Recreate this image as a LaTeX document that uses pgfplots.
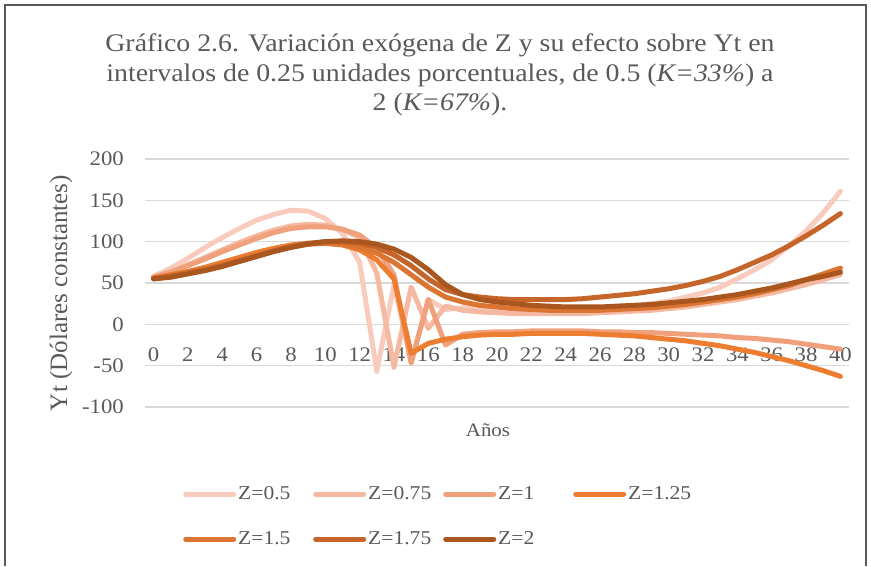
\documentclass[border=0pt]{standalone}
\usepackage{fontspec}
\setmainfont{Liberation Serif}[FakeStretch=1.1]
\newfontfamily\uprightserif{Liberation Serif}
\usepackage{pgfplots}
\usepackage{pgfplotstable}
\pgfplotsset{compat=1.18}

\definecolor{txt}{HTML}{595959}
\definecolor{gridc}{HTML}{D9D9D9}
\definecolor{frame}{HTML}{595959}
\definecolor{cA}{HTML}{F8CBBD}
\definecolor{cB}{HTML}{F4B9A0}
\definecolor{cC}{HTML}{F0A07A}
\definecolor{cD}{HTML}{ED7D31}
\definecolor{cE}{HTML}{DC7432}
\definecolor{cF}{HTML}{C5652A}
\definecolor{cG}{HTML}{A9561F}

% Yt for each value of Z, years 0..40
\pgfplotstableread{
t  z05  z075  z1   z125  z15  z175  z2
0  58   57    57   56    56   55    55
1  68   64    63   60    59   58    57
2  80   72    71   64    63   62    61
3  93   81    79   69    67   66    65
4  105  90    88   75    72   71    70
5  116  99    96   81    78   77    76
6  126  107   104  87    84   83    82
7  133  114   111  92    89   89    88
8  138  119   116  96    94   94    93
9  137  121   118  98    97   98    97
10 128  120   118  98    98   100   100
11 110  115   115  96    97   100   101
12 75   105   108  90    93   98    100
13 -57  62    92   78    86   93    97
14 48   -52   60   55    75   84    91
15 -45  45    -47  -35   60   71    81
16 30   -5    30   -23   45   55    66
17 18   22    -25  -18   33   42    48
18 20   17    -12  -15   27   36    36
19 18   15    -10  -13   23   33    30
20 17   14    -9   -12   21   31    27
21 16   13    -9   -12   19   30    25
22 15   13    -8   -11   18   30    23
23 15   13    -8   -11   17   30    22
24 15   13    -8   -11   17   30    21
25 16   13    -8   -11   17   31    21
26 18   14    -9   -12   17   33    21
27 20   15    -9   -13   18   35    22
28 22   16    -10  -14   19   37    23
29 25   17    -10  -16   20   40    24
30 28   19    -11  -18   22   43    26
31 33   21    -12  -20   24   47    28
32 38   24    -13  -23   27   52    30
33 45   27    -14  -26   30   58    33
34 55   30    -16  -30   33   66    36
35 66   34    -17  -34   37   75    40
36 78   38    -19  -39   42   84    44
37 95   43    -21  -44   47   95    49
38 113  48    -24  -50   54   107   54
39 135  54    -27  -56   61   120   58
40 161  60    -30  -63   68   134   63
}\yt

\begin{document}
\begin{tikzpicture}[x=1pt,y=1pt]
\useasboundingbox (0,0) rectangle (871,566);
\draw[frame, line width=1.2pt] (5,0) -- (5,561) -- (866,561) -- (866,0);

\node[text=txt, align=center, font=\fontsize{25.3}{29.5}\selectfont] at (440,491)
  {Gráfico 2.6. Variación exógena de Z y su efecto sobre Yt en\\
   intervalos de 0.25 unidades porcentuales, de 0.5 (\textit{K=33\%}) a\\
   2 (\textit{K=67\%}).};

\node[text=txt, rotate=90, font=\uprightserif\fontsize{25}{25}\selectfont] at (61,273) {Yt (Dólares constantes)};
\node[text=txt, font=\fontsize{19}{19}\selectfont] at (488,136) {Años};

\begin{axis}[
  at={(145pt,159pt)}, anchor=south west,
  scale only axis, width=704pt, height=248pt,
  xmin=-0.5, xmax=40.5, ymin=-100, ymax=200,
  enlargelimits=false,
  axis x line=middle,
  x axis line style={draw=none},
  y axis line style={draw=none},
  axis line style={draw=none},
  xtick={0,2,...,40},
  ytick={-100,-50,...,200},
  major tick length=0pt,
  ymajorgrids,
  major grid style={gridc, line width=1.5pt},
  /pgf/number format/assume math mode=true,
  xticklabel style={text=txt, font=\fontsize{20.7}{20.7}\selectfont, anchor=north, inner sep=0pt, yshift=-23pt},
  yticklabel style={text=txt, font=\fontsize{20.7}{20.7}\selectfont, anchor=east, inner sep=0pt, xshift=-21pt},
  clip=false,
  legend columns=4,
  legend cell align=left,
  legend image code/.code={\draw[#1, line cap=round] (0pt,0pt) -- (48pt,0pt);},
  legend style={at={(axis description cs:0.054,-0.31)}, anchor=north west,
    draw=none, fill=none, inner sep=0pt, row sep=25pt,
    font=\fontsize{19.6}{19.6}\selectfont, text=txt,
    nodes={inner sep=2pt, text height=13pt, text depth=3pt}},
  every axis plot/.append style={line width=5pt, line join=round, line cap=round, mark=none},
]
\addplot[cA] table[x=t, y=z05] {\yt};
\addlegendentry{\makebox[73pt][l]{Z=0.5}}
\addplot[cB] table[x=t, y=z075] {\yt};
\addlegendentry{\makebox[73pt][l]{Z=0.75}}
\addplot[cC] table[x=t, y=z1] {\yt};
\addlegendentry{\makebox[73pt][l]{Z=1}}
\addplot[cD] table[x=t, y=z125] {\yt};
\addlegendentry{\makebox[73pt][l]{Z=1.25}}
\addplot[cE] table[x=t, y=z15] {\yt};
\addlegendentry{\makebox[73pt][l]{Z=1.5}}
\addplot[cF] table[x=t, y=z175] {\yt};
\addlegendentry{\makebox[73pt][l]{Z=1.75}}
\addplot[cG] table[x=t, y=z2] {\yt};
\addlegendentry{\makebox[73pt][l]{Z=2}}
\end{axis}
\end{tikzpicture}
\end{document}
